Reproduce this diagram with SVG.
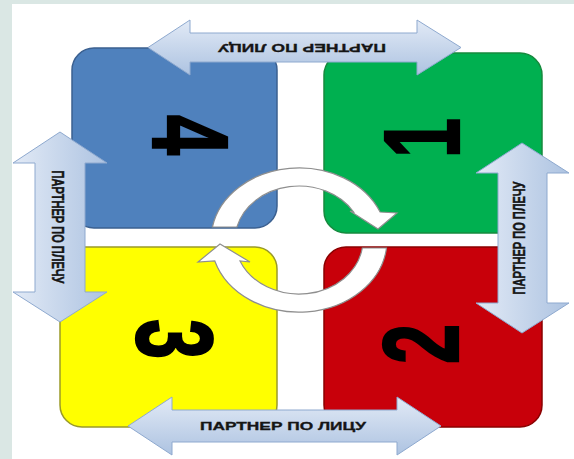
<svg xmlns="http://www.w3.org/2000/svg" width="574" height="459" viewBox="0 0 574 459">
<defs>
<linearGradient id="gh" x1="0" y1="0" x2="0" y2="1"><stop offset="0" stop-color="#e2eaf6"/><stop offset="1" stop-color="#adc3e1"/></linearGradient>
<linearGradient id="gv" x1="0" y1="0" x2="1" y2="0"><stop offset="0" stop-color="#e2eaf6"/><stop offset="1" stop-color="#adc3e1"/></linearGradient>
<style>
.arr{stroke:#8ea9cf;stroke-width:1;stroke-linejoin:miter}
.lbl{font-family:"Liberation Sans",Arial,sans-serif;font-weight:bold;font-size:11px;fill:#151515;stroke:#151515;stroke-width:0.3;text-anchor:middle;dominant-baseline:central}
.dig{font-family:"Liberation Sans",Arial,sans-serif;font-weight:bold;font-size:72px;fill:#000;stroke:#000;stroke-width:1.5;text-anchor:middle;dominant-baseline:central}
.ring{fill:#fff;stroke:#8f8f8f;stroke-width:1.2;stroke-linejoin:miter}
</style>
</defs>
<rect x="0" y="0" width="574" height="459" fill="#dae7e4"/>
<rect x="12" y="4" width="562" height="455" fill="#fff"/>

<g id="node-4">
<rect x="72" y="48" width="205" height="180" rx="22" fill="#4f81bd" stroke="#3b6090" stroke-width="1.5"/>
<text class="dig" transform="translate(191,135) rotate(90) scale(1,1.5)">4</text>
</g>
<g id="node-1">
<rect x="324" y="53" width="218" height="180" rx="22" fill="#00b050" stroke="#168a3e" stroke-width="1.5"/>
<text class="dig" transform="translate(421,138) rotate(-90) scale(1,1.5)">1</text>
</g>
<g id="node-3">
<rect x="60" y="247" width="217" height="180" rx="22" fill="#ffff00" stroke="#9a9a28" stroke-width="1.5"/>
<text class="dig" transform="translate(175,339) rotate(90) scale(1,1.5)">3</text>
</g>
<g id="node-2">
<rect x="324" y="247" width="218" height="180" rx="22" fill="#c8000a" stroke="#8a0000" stroke-width="1.5"/>
<text class="dig" transform="translate(420,344) rotate(-90) scale(1,1.5)">2</text>
</g>

<g id="cycle">
<path class="ring" d="M212.4,227 A88 72 0 0 1 380.1,212 L397,213 L378,229 L350,211 L353.7,212 A64 54 0 0 0 236.9,227 Z"/>
<path class="ring" d="M386.5,248 A88 72 0 0 1 214.8,261 L198,262 L220,244 L250,262 L240,261 A64 54 0 0 0 362.3,248 Z"/>
</g>

<g id="connectors">
<g id="arrow-top">
<polygon class="arr" fill="url(#gh)" points="148,47.5 190,20 190,33 417,33 417,20 461,47.5 417,75 417,62 190,62 190,75"/>
<text class="lbl" textLength="168" lengthAdjust="spacingAndGlyphs" transform="translate(302,48) rotate(180)">ПАРТНЕР ПО ЛИЦУ</text>
</g>
<g id="arrow-bottom">
<polygon class="arr" fill="url(#gh)" points="128,426 172,397 172,410 397,410 397,397 441,426 397,455 397,442 172,442 172,455"/>
<text class="lbl" x="283" y="426" textLength="166" lengthAdjust="spacingAndGlyphs">ПАРТНЕР ПО ЛИЦУ</text>
</g>
<g id="arrow-left">
<polygon class="arr" fill="url(#gv)" points="60,132 107,163 85,163 85,292 107,292 60,322 13,292 35,292 35,163 13,163"/>
<text class="lbl" textLength="113" lengthAdjust="spacingAndGlyphs" transform="translate(57,227) rotate(90) scale(1,1.45)">ПАРТНЕР ПО ПЛЕЧУ</text>
</g>
<g id="arrow-right">
<polygon class="arr" fill="url(#gv)" points="522,143 569,173 547,173 547,303 569,303 522,333 476,303 498,303 498,173 476,173"/>
<text class="lbl" textLength="113" lengthAdjust="spacingAndGlyphs" transform="translate(520,238) rotate(-90) scale(1,1.45)">ПАРТНЕР ПО ПЛЕЧУ</text>
</g>
</g>
</svg>
